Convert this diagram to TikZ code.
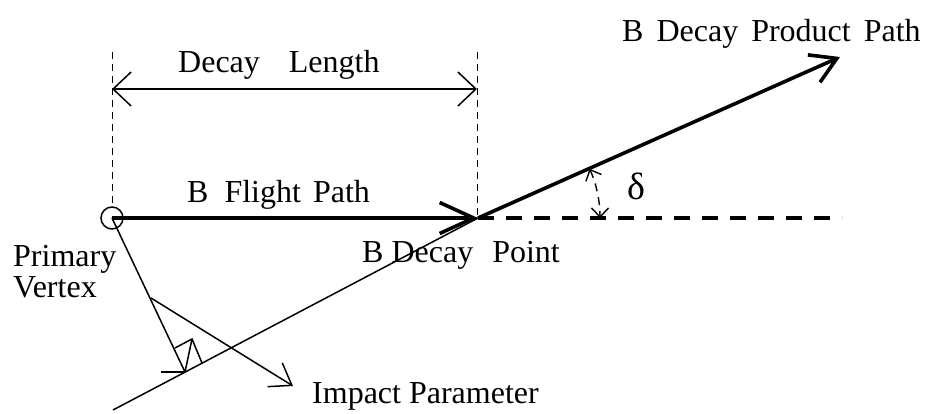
\documentclass[tikz,border=0pt]{standalone}
\usepackage{fontspec}
\setmainfont{Liberation Serif}
\usetikzlibrary{arrows.meta,calc}
\begin{document}
\begin{tikzpicture}[x=1pt,y=-1pt,
  thinline/.style={line width=1.5pt},
  thickpath/.style={line width=3.6pt},
  lbl/.style={anchor=base west, inner sep=0pt, font=\fontsize{32}{36}\selectfont},
  guide/.style={line width=1pt, dash pattern=on 7pt off 5pt},
]
\useasboundingbox (0,0) rectangle (935,414);

% key points
\node[circle, draw, line width=1.5pt, minimum size=22pt, inner sep=0pt] (pv) at (112,218) {};
\coordinate (dp) at (478,218);
\coordinate (tip) at (840,57);
\coordinate (tail) at (113,410);
\coordinate (foot) at (185,372);
\coordinate (lineend) at (842,218);
\coordinate (dlL) at (112,89);
\coordinate (dlR) at (477,89);
\coordinate (vtopL) at (112,52);
\coordinate (vbotL) at (112,207);
\coordinate (vtopR) at (477,52);
\coordinate (vbotR) at (477,216);
\coordinate (raA) at (202,363);
\coordinate (raB) at (192,339);
\coordinate (raC) at (175,348);
\coordinate (barbL) at (161,372);
\coordinate (ipS) at (151,298);
\coordinate (ipE) at (293,386);

% guides and decay length
\draw[guide] (vtopL) -- (vbotL);
\draw[guide] (vtopR) -- (vbotR);
\draw[thinline, {Straight Barb[length=18pt,width=34pt]}-{Straight Barb[length=18pt,width=34pt]}] (dlL) -- (dlR);

% thin track line
\draw[thinline] (tail) -- (dp);

% flight path
\draw[thickpath, -{Straight Barb[length=34pt,width=31pt]}] (pv.center) -- (dp);

% product path
\draw[thickpath, -{Straight Barb[length=25pt,width=30pt]}] (dp) -- (tip);

% dashed continuation
\draw[line width=3.3pt, dash pattern=on 16pt off 12pt] (dp) -- (lineend);

% delta arc
\draw[line width=1.4pt, dash pattern=on 8pt off 6pt,
  {Straight Barb[length=9pt,width=17pt]}-{Straight Barb[length=9pt,width=17pt]}]
  ($(dp)+(-23.8:122)$) arc[start angle=-23.8, end angle=0, radius=122];

% impact parameter line
\draw[thinline] (pv.center) -- (foot);
\draw[thinline] (foot) -- (barbL);
\draw[thinline] (foot) -- (raB);
\draw[thinline] (raA) -- (raB) -- (raC);
\draw[thinline, -{Straight Barb[length=20pt,width=28pt]}] (ipS) -- (ipE);

% labels
\node[lbl] (tDL) at (178,73) {Decay\hspace{29pt}Length};
\node[lbl] (tBFP) at (187,203) {B\hspace{16pt}Flight\hspace{12pt}Path};
\node[lbl] (tBDP) at (362,263) {B Decay\hspace{19pt}Point};
\node[lbl] (tBDPP) at (622,42) {B\hspace{13pt}Decay\hspace{13pt}Product\hspace{13pt}Path};
\node[lbl] (tPr) at (13,267) {Primary};
\node[lbl] (tVx) at (13,298) {Vertex};
\node[lbl] (tIP) at (312,403) {Impact Parameter};
\node[anchor=base west, inner sep=0pt, font=\fontsize{38}{40}\selectfont] (tDelta) at (627,200) {δ};
\end{tikzpicture}
\end{document}
